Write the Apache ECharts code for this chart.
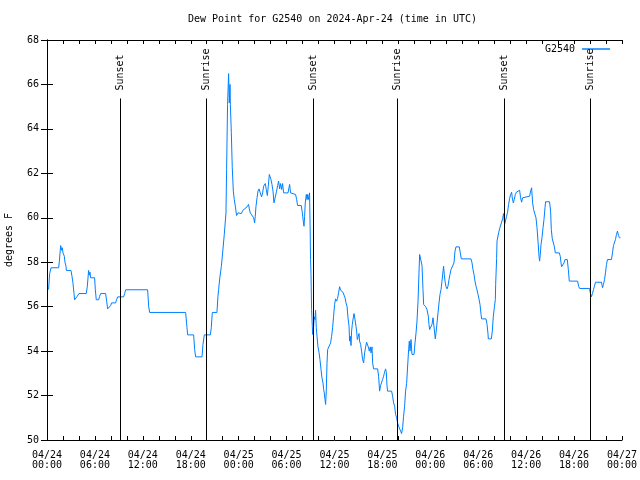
<!DOCTYPE html>
<html>
<head>
<meta charset="utf-8">
<script src="https://cdn.jsdelivr.net/npm/echarts@6/dist/echarts.min.js"></script>
<style>html,body{margin:0;padding:0;background:#fff}#c{width:640px;height:480px}</style>
</head>
<body>
<div id="c"></div>
<script>
// hours since 2024-04-24 00:00 UTC
const hours = [0.2,0.33,0.5,1.46,1.54,1.71,1.83,1.92,2.0,2.17,2.25,2.38,2.42,3.0,3.13,3.25,3.38,3.46,3.67,3.79,4.0,4.92,5.05,5.21,5.3,5.38,5.46,5.96,6.05,6.17,6.47,6.59,6.72,7.34,7.47,7.59,7.8,7.97,8.09,8.59,8.72,8.85,9.6,9.72,9.85,12.6,12.73,12.85,17.36,17.53,17.61,18.36,18.49,18.61,19.41,19.53,19.7,20.45,20.57,20.7,21.28,21.41,21.49,21.64,21.83,22.01,22.2,22.41,22.49,22.61,22.74,22.83,22.92,22.96,23.08,23.2,23.33,23.45,23.58,23.74,23.92,24.12,24.33,24.54,24.74,25.04,25.24,25.33,25.46,25.67,25.87,26.0,26.08,26.17,26.3,26.42,26.55,26.71,26.87,27.0,27.12,27.33,27.46,27.59,27.71,27.84,27.92,28.05,28.17,28.3,28.42,28.63,28.75,28.88,29.0,29.13,29.25,29.38,29.5,29.63,30.18,30.3,30.38,30.5,30.63,31.13,31.26,31.38,31.84,31.97,32.09,32.18,32.26,32.34,32.47,32.56,32.63,32.72,32.81,32.88,32.95,33.0,33.06,33.13,33.22,33.26,33.38,33.47,33.56,33.63,33.72,33.81,33.93,34.06,34.18,34.31,34.43,34.56,34.64,34.72,34.81,34.89,34.97,35.06,35.14,35.39,35.51,35.64,35.76,35.89,36.01,36.14,36.26,36.39,36.51,36.64,36.76,36.89,37.06,37.19,37.32,37.44,37.57,37.69,37.82,37.89,37.98,38.07,38.14,38.23,38.35,38.44,38.57,38.69,38.77,38.86,38.98,39.07,39.14,39.27,39.39,39.52,39.65,39.77,39.9,40.02,40.15,40.23,40.36,40.48,40.57,40.7,40.77,40.9,41.4,41.52,41.65,41.77,41.9,42.02,42.15,42.27,42.4,42.49,42.57,42.65,43.15,43.28,43.4,43.53,43.65,43.78,43.9,44.03,44.15,44.28,44.4,44.53,44.65,44.78,44.9,45.03,45.15,45.28,45.37,45.45,45.58,45.7,45.83,45.96,46.08,46.21,46.33,46.46,46.58,46.66,46.83,46.96,47.08,47.16,47.41,47.58,47.75,47.83,47.91,48.08,48.21,48.33,48.41,48.54,48.62,48.71,48.84,48.96,49.09,49.21,49.34,49.46,49.59,49.66,49.75,49.84,49.96,50.09,50.21,50.34,50.46,50.59,50.71,50.84,50.96,51.09,51.21,51.63,51.75,51.88,53.09,53.22,53.34,53.47,53.59,53.72,53.84,53.97,54.09,54.22,54.35,54.42,54.97,55.1,55.22,55.26,55.64,55.76,55.89,56.01,56.14,56.18,56.3,56.35,56.55,56.67,56.8,56.89,56.97,57.05,57.17,57.3,57.42,57.55,57.67,57.8,57.92,58.05,58.18,58.26,58.39,58.51,58.64,58.77,58.89,59.18,59.3,59.43,59.55,59.68,60.43,60.56,60.68,60.81,60.93,61.11,61.23,61.36,61.48,61.61,61.68,61.77,61.86,61.98,62.11,62.23,62.36,62.43,62.93,63.06,63.15,63.27,63.4,63.52,63.65,64.15,64.28,64.36,64.44,64.61,64.74,64.86,65.15,65.28,65.4,66.44,66.57,66.69,67.94,68.03,68.18,68.3,68.43,68.55,68.68,69.43,69.56,69.68,69.81,69.93,70.06,70.18,70.68,70.81,70.93,71.06,71.18,71.31,71.43,71.56,71.68,71.81];
const dewPoint = [56.77,57.48,57.75,57.75,58.02,58.75,58.54,58.65,58.42,58.27,58.0,57.82,57.63,57.63,57.37,57.07,56.59,56.31,56.31,56.47,56.59,56.59,56.92,57.63,57.42,57.55,57.3,57.3,56.77,56.31,56.31,56.47,56.59,56.59,56.25,55.9,55.9,56.05,56.17,56.17,56.32,56.44,56.44,56.59,56.76,56.76,56.02,55.74,55.74,55.05,54.73,54.73,54.07,53.74,53.74,54.3,54.73,54.73,55.05,55.74,55.74,56.47,56.77,57.3,57.8,58.5,59.25,60.22,62.17,65.1,66.49,65.17,66.0,65.1,63.83,62.25,61.2,60.82,60.52,60.1,60.22,60.3,60.19,60.34,60.4,60.49,60.6,60.4,60.22,60.19,60.0,59.77,60.07,60.52,60.9,61.2,61.3,61.12,60.94,61.12,61.42,61.54,61.27,61.0,61.42,61.95,62.02,61.72,61.5,61.2,60.67,60.67,61.2,61.45,61.65,61.3,61.54,61.27,61.54,61.12,61.12,61.35,61.5,61.12,61.05,61.05,60.82,60.55,60.55,60.22,59.85,59.62,60.07,60.67,61.05,60.82,61.05,60.82,60.82,61.12,59.5,58.12,57.45,55.87,55.12,54.75,55.12,55.54,55.42,55.84,55.05,54.67,54.19,53.95,53.62,53.17,52.8,52.57,52.27,52.12,51.82,51.6,52.2,53.44,54.07,54.15,54.37,54.67,55.05,55.57,56.1,56.35,56.25,56.38,56.62,56.9,56.74,56.7,56.65,56.62,56.4,56.17,56.02,55.5,55.12,54.45,54.67,54.25,54.9,55.2,55.5,55.69,55.42,55.12,54.9,54.52,54.67,54.79,54.45,54.3,54.0,53.62,53.47,53.92,54.19,54.4,54.49,54.19,54.0,54.19,53.92,54.19,53.47,53.2,53.2,52.87,52.2,52.45,52.54,52.72,52.87,53.05,53.2,53.02,52.45,52.2,52.2,51.97,51.67,51.52,51.15,51.0,50.77,50.62,50.55,50.4,50.29,50.55,51.07,51.52,52.2,52.54,52.54,54.07,54.45,54.0,54.52,53.85,53.77,53.85,54.37,54.82,55.35,56.25,57.52,58.35,58.42,57.85,56.77,56.1,56.0,55.87,55.57,55.2,54.97,55.05,55.2,55.5,55.27,54.82,54.55,54.82,55.27,55.72,56.17,56.55,56.77,57.15,57.6,57.82,57.45,57.15,56.9,56.8,56.92,57.22,57.45,57.67,57.75,57.75,57.97,58.5,58.69,58.69,58.42,58.15,58.15,57.97,57.67,57.45,57.15,56.92,56.77,56.55,56.35,56.1,55.65,55.45,55.45,55.2,54.78,54.55,54.55,54.9,55.57,55.95,56.32,57.0,58.17,58.95,59.32,59.5,59.43,59.55,59.55,59.95,60.19,59.7,59.77,60.07,60.25,60.6,60.85,61.05,61.15,60.9,60.67,60.82,61.05,61.15,61.24,61.24,60.9,60.7,60.9,60.97,60.97,61.2,61.35,60.67,60.37,60.37,60.0,59.55,58.95,58.27,58.05,58.35,58.8,59.1,59.55,59.92,60.45,60.72,60.72,60.3,59.47,59.05,59.02,58.72,58.42,58.42,58.25,57.97,57.8,57.8,57.97,58.12,58.12,57.67,57.15,57.15,56.92,56.82,56.82,56.62,56.45,56.59,56.77,56.92,57.1,57.1,56.85,57.0,57.22,57.52,57.9,58.12,58.12,58.42,58.75,58.78,59.02,59.25,59.4,59.2,59.1,59.1];
const sunHours = [9.22, 19.99, 33.31, 43.9, 57.26, 68.0];
const sunLabels = ['Sunset', 'Sunrise', 'Sunset', 'Sunrise', 'Sunset', 'Sunrise'];
const xTickLabels = ['04/24\n00:00','04/24\n06:00','04/24\n12:00','04/24\n18:00','04/25\n00:00','04/25\n06:00','04/25\n12:00','04/25\n18:00','04/26\n00:00','04/26\n06:00','04/26\n12:00','04/26\n18:00','04/27\n00:00'];
const seriesName = 'G2540';
const titleText = 'Dew Point for G2540 on 2024-Apr-24 (time in UTC)';
const yName = 'degrees F';

const FONT = 'DejaVu Sans Mono';
const data = hours.map((h, i) => [h, dewPoint[i]]);
const sunLineTop = 65.37;
const sunLabelY = 65.68;

const chart = echarts.init(document.getElementById('c'), null, {renderer: 'canvas'});
const axisLine = {show: true, lineStyle: {color: '#000', width: 1}};
chart.setOption({
  animation: false,
  backgroundColor: '#fff',
  textStyle: {fontFamily: FONT, fontSize: 10, color: '#000'},
  title: {
    text: titleText, left: 188, top: 14, padding: 0,
    textStyle: {fontFamily: FONT, fontSize: 10, fontWeight: 'normal', color: '#000'}
  },
  legend: {
    show: true, right: 30, top: 44, padding: 0, align: 'right',
    itemWidth: 28, itemHeight: 1.5,
    data: [{name: seriesName, icon: 'rect'}],
    textStyle: {fontFamily: FONT, fontSize: 10, color: '#000', padding: [0, 2, 0, 0]}
  },
  grid: {left: 47, right: 18, top: 40, bottom: 40, containLabel: false, outerBoundsMode: 'none'},
  xAxis: [{
    type: 'value', min: 0, max: 72, interval: 2, position: 'bottom',
    axisLine: axisLine,
    axisTick: {show: true, inside: true, length: 4, lineStyle: {color: '#000'}},
    splitLine: {show: false},
    axisLabel: {
      fontFamily: FONT, fontSize: 10, color: '#000', margin: 10, lineHeight: 10,
      showMinLabel: true, showMaxLabel: true, hideOverlap: false,
      formatter: function (v) {
        const i = Math.round(v / 6);
        return Math.abs(v - i * 6) < 1e-6 ? xTickLabels[i] : '';
      }
    }
  }, {
    type: 'value', min: 0, max: 72, interval: 2, position: 'top',
    axisLine: axisLine,
    axisTick: {show: true, inside: true, length: 4, lineStyle: {color: '#000'}},
    splitLine: {show: false},
    axisLabel: {show: false}
  }],
  yAxis: [{
    type: 'value', min: 50, max: 68, interval: 2, position: 'left',
    name: yName, nameLocation: 'middle', nameGap: 33, nameRotate: 90,
    nameTextStyle: {fontFamily: FONT, fontSize: 10, color: '#000'},
    axisLine: axisLine,
    axisTick: {show: true, inside: true, length: 6, lineStyle: {color: '#000'}},
    splitLine: {show: false},
    axisLabel: {fontFamily: FONT, fontSize: 10, color: '#000', margin: 8}
  }, {
    type: 'value', min: 50, max: 68, interval: 2, position: 'right',
    axisLine: axisLine,
    axisTick: {show: true, inside: true, length: 6, lineStyle: {color: '#000'}},
    splitLine: {show: false},
    axisLabel: {show: false}
  }],
  series: [{
    name: seriesName, type: 'line', data: data,
    xAxisIndex: 0, yAxisIndex: 0,
    showSymbol: false, symbol: 'none',
    lineStyle: {color: '#0080ff', width: 1},
    itemStyle: {color: '#0080ff'},
    markLine: {
      silent: true, symbol: ['none', 'none'], animation: false,
      label: {show: false},
      lineStyle: {color: '#000', width: 1, type: 'solid'},
      emphasis: {disabled: true},
      data: sunHours.map(h => [{coord: [h, 50]}, {coord: [h, sunLineTop]}])
    },
    markPoint: {
      silent: true, symbol: 'circle', symbolSize: 0, animation: false,
      label: {
        show: true, position: 'inside', rotate: 90, align: 'left', verticalAlign: 'middle',
        offset: [1, 0],
        fontFamily: FONT, fontSize: 10, color: '#000',
        formatter: p => p.name
      },
      data: sunHours.map((h, i) => ({name: sunLabels[i], coord: [h, sunLabelY]}))
    }
  }]
});
</script>
</body>
</html>
